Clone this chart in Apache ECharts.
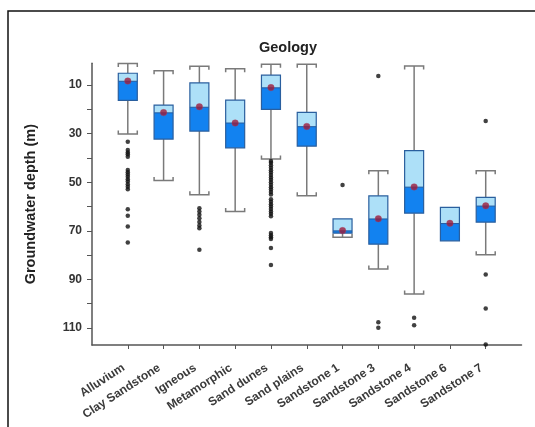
<!DOCTYPE html>
<html>
<head>
<meta charset="utf-8">
<script src="https://cdn.jsdelivr.net/npm/echarts@6/dist/echarts.min.js"></script>
<style>
html,body{margin:0;padding:0;background:#fff;}
#chart{width:535px;height:427px;}
</style>
</head>
<body>
<div id="chart"></div>
<script>
const categories = ['Alluvium','Clay Sandstone','Igneous','Metamorphic','Sand dunes','Sand plains','Sandstone 1','Sandstone 3','Sandstone 4','Sandstone 6','Sandstone 7'];
const whiskerTop    = [1.1, 4.1, 2.2, 3.2, 1.4, 1.4, 65.1, 45.2, 2.1, 60.3, 45.2];
const q1Values      = [5.1, 18.2, 9.1, 16.2, 5.9, 21.2, 65.1, 55.6, 37.0, 60.3, 56.2];
const medianValues  = [8.4, 21.4, 19.1, 25.6, 11.1, 27.1, 70.0, 65.1, 52.0, 67.0, 59.8];
const q3Values      = [16.3, 32.2, 28.9, 35.8, 20.0, 35.1, 70.9, 75.5, 62.7, 74.1, 66.4];
const whiskerBottom = [30.1, 49.3, 55.1, 62.0, 40.4, 55.5, 72.6, 85.7, 96.0, 74.1, 79.8];
const meanValues    = [8.3, 21.3, 18.9, 25.6, 11.0, 27.0, 69.9, 65.0, 51.9, 66.9, 59.7];
const outliers = [
  [33.3, 36.7, 37.7, 38.5, 39.5, 44.9, 45.9, 46.8, 47.7, 48.7, 49.7, 50.8, 51.8, 52.9, 61.1, 63.8, 68.2, 74.8],
  [],
  [60.7, 62.0, 63.4, 64.8, 66.4, 67.8, 68.9, 77.8],
  [],
  [41.2, 42.0, 43.0, 44.0, 45.0, 46.0, 47.0, 48.0, 49.0, 50.0, 51.0, 52.0, 53.0, 54.0, 55.0, 57.0, 58.0, 59.0, 60.0, 61.0, 62.0, 63.0, 64.0, 70.9, 71.8, 72.6, 73.3, 77.1, 84.1],
  [],
  [51.1],
  [6.2, 107.6, 109.9],
  [105.8, 108.9],
  [],
  [24.8, 88.0, 102.0, 116.8]
];
const yTickValues = [10, 20, 30, 40, 50, 60, 70, 80, 90, 100, 110];
const yLabelValues = [10, 30, 50, 70, 90, 110];

const axisCats = [''].concat(categories, ['']);
const boxData = categories.map((c, i) => [i + 1, whiskerTop[i], q1Values[i], medianValues[i], q3Values[i], whiskerBottom[i]]);
const meanData = categories.map((c, i) => [i + 1, meanValues[i]]);
const outlierData = [];
outliers.forEach((arr, i) => arr.forEach(v => outlierData.push([i + 1, v])));

const FONT = 'Liberation Sans, Arial, sans-serif';
const chart = echarts.init(document.getElementById('chart'), null, {renderer: 'canvas'});
chart.setOption({
  backgroundColor: '#fff',
  animation: false,
  title: {
    text: 'Geology', left: 254, top: 35,
    textStyle: {fontFamily: FONT, fontSize: 14.5, fontWeight: 'bold', color: '#222'}
  },
  graphic: [{
    type: 'rect', silent: true, z: 100,
    shape: {x: 8, y: 11, width: 700, height: 700},
    style: {fill: 'none', stroke: '#111', lineWidth: 1.5}
  }],
  grid: {left: 92, right: 13.5, top: 63.3, bottom: 82, containLabel: false},
  xAxis: {
    type: 'category', data: axisCats, boundaryGap: false,
    axisLine: {onZero: false, lineStyle: {color: '#555', width: 1.5}},
    axisTick: {length: 4, lineStyle: {color: '#555', width: 1}, interval: (idx, val) => val !== ''},
    axisLabel: {rotate: 33, interval: 0, margin: 19, padding: [0, 5, 0, 0], fontFamily: FONT, fontSize: 12, fontWeight: 'bold', color: '#3a3a3a'},
    splitLine: {show: false}
  },
  yAxis: {
    type: 'value', inverse: true, min: 1, max: 117,
    name: 'Groundwater depth (m)', nameLocation: 'middle', nameGap: 54, nameRotate: 90,
    nameTextStyle: {fontFamily: FONT, fontSize: 14.5, fontWeight: 'bold', color: '#222'},
    axisLine: {show: true, lineStyle: {color: '#555', width: 1.5}},
    axisTick: {show: true, length: 5, customValues: yTickValues, lineStyle: {color: '#555', width: 1}},
    axisLabel: {customValues: yLabelValues, margin: 10, fontFamily: FONT, fontSize: 12, fontWeight: 'bold', color: '#333'},
    splitLine: {show: false}
  },
  series: [
    {
      type: 'custom',
      data: boxData,
      encode: {x: 0, y: [1, 2, 3, 4, 5]},
      renderItem: function (params, api) {
        const i = api.value(0);
        const lo = api.value(1), q1 = api.value(2), med = api.value(3), q3 = api.value(4), hi = api.value(5);
        const pLo = api.coord([i, lo]), pQ1 = api.coord([i, q1]), pMed = api.coord([i, med]);
        const pQ3 = api.coord([i, q3]), pHi = api.coord([i, hi]);
        const x = pQ1[0], half = 9.5, hook = 3.5;
        const wStyle = {stroke: '#7a7a7a', lineWidth: 1.5, fill: 'none'};
        const children = [];
        if (lo < q1) {
          children.push({type: 'line', shape: {x1: x, y1: pLo[1], x2: x, y2: pQ1[1]}, style: wStyle});
          children.push({type: 'polyline', shape: {points: [[x - half, pLo[1] + hook], [x - half, pLo[1]], [x + half, pLo[1]], [x + half, pLo[1] + hook]]}, style: wStyle});
        }
        if (hi > q3) {
          children.push({type: 'line', shape: {x1: x, y1: pQ3[1], x2: x, y2: pHi[1]}, style: wStyle});
          children.push({type: 'polyline', shape: {points: [[x - half, pHi[1] - hook], [x - half, pHi[1]], [x + half, pHi[1]], [x + half, pHi[1] - hook]]}, style: wStyle});
        }
        children.push({type: 'rect', shape: {x: x - half, y: pQ1[1], width: half * 2, height: pMed[1] - pQ1[1]}, style: {fill: '#ade0f8', stroke: 'none'}});
        children.push({type: 'rect', shape: {x: x - half, y: pMed[1], width: half * 2, height: pQ3[1] - pMed[1]}, style: {fill: '#1282f0', stroke: 'none'}});
        children.push({type: 'line', shape: {x1: x - half, y1: pMed[1], x2: x + half, y2: pMed[1]}, style: {stroke: '#1f5aa0', lineWidth: 1}});
        children.push({type: 'rect', shape: {x: x - half, y: pQ1[1], width: half * 2, height: pQ3[1] - pQ1[1]}, style: {fill: 'none', stroke: '#2a5f9e', lineWidth: 1.2}});
        return {type: 'group', children: children};
      },
      z: 2
    },
    {
      type: 'scatter', data: outlierData, symbol: 'circle', symbolSize: 4.5,
      itemStyle: {color: '#111'}, z: 3
    },
    {
      type: 'scatter', data: meanData, symbol: 'circle', symbolSize: 6.5,
      itemStyle: {color: '#9a1b3c', borderColor: '#b04060', borderWidth: 0.5}, z: 4
    }
  ]
});
</script>
</body>
</html>
